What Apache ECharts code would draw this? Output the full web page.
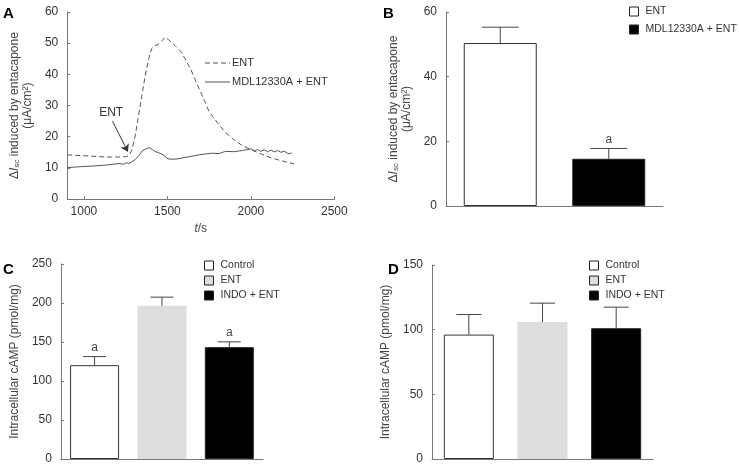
<!DOCTYPE html>
<html>
<head>
<meta charset="utf-8">
<script src="https://cdn.jsdelivr.net/npm/echarts@6/dist/echarts.min.js"></script>
<style>
  html, body { margin: 0; padding: 0; background: #fff; }
  #wrap { position: relative; width: 739px; height: 467px; }
  .panel { position: absolute; }
</style>
</head>
<body>
<div id="wrap">
  <div id="chartA" class="panel" style="left:0;top:0;width:370px;height:240px"></div>
  <div id="chartB" class="panel" style="left:370px;top:0;width:369px;height:240px"></div>
  <div id="chartC" class="panel" style="left:0;top:240px;width:370px;height:227px"></div>
  <div id="chartD" class="panel" style="left:370px;top:240px;width:369px;height:227px"></div>
</div>
<script>
// panel A : traces over time
const timeEnt = [900, 960, 1040, 1130, 1200, 1250, 1269, 1288, 1308, 1328, 1348, 1367, 1388, 1406, 1425, 1445, 1465, 1485, 1505, 1524, 1550, 1582, 1610, 1641, 1685, 1729, 1749, 1800, 1847, 1900, 1945, 2004, 2060, 2122, 2190, 2259];
const valEnt  = [14.2, 14.0, 13.8, 13.5, 13.5, 13.6, 13.9, 15.8, 20.5, 27.0, 33.5, 39.5, 45.0, 48.3, 49.2, 49.6, 50.6, 51.9, 51.2, 50.3, 49.0, 47.2, 44.6, 41.5, 36.0, 30.7, 28.1, 24.5, 21.4, 19.0, 17.3, 15.8, 14.5, 13.2, 12.2, 11.3];
const timeMdl = [900, 980, 1053, 1130, 1210, 1240, 1255, 1269, 1280, 1308, 1330, 1347, 1370, 1391, 1410, 1426, 1450, 1475, 1504, 1530, 1563, 1600, 1641, 1690, 1729, 1769, 1810, 1847, 1900, 1950, 2004, 2020, 2040, 2060, 2080, 2100, 2122, 2140, 2160, 2180, 2200, 2220, 2235, 2245];
const valMdl  = [10.1, 10.4, 10.6, 10.9, 11.4, 11.2, 11.7, 11.4, 11.8, 12.7, 14.0, 15.3, 16.1, 16.5, 15.9, 15.3, 14.8, 14.2, 12.9, 12.8, 12.9, 13.3, 13.7, 14.2, 14.5, 14.7, 14.6, 15.3, 15.2, 15.6, 16.1, 15.4, 15.9, 15.3, 15.8, 15.2, 15.7, 15.1, 15.6, 15.0, 15.4, 14.7, 14.5, 14.9];
const tickA   = [1000, 1500, 2000, 2500];
const namesA  = ['ENT', 'MDL12330A + ENT'];

// panel B : mean response
const namesB = ['ENT', 'MDL12330A + ENT'];
const valB   = [50.4, 14.6];
const upB    = [55.3, 17.8];
const sigB   = [0, 1];

// panel C and D : intracellular cAMP
const namesCD = ['Control', 'ENT', 'INDO + ENT'];
const valC   = [120.3, 196.4, 143.4];
const upC    = [131.3, 207.5, 150.2];
const sigC   = [1, 0, 1];
const valD   = [96.2, 106.0, 101.1];
const upD    = [111.7, 120.5, 117.4];
const sigD   = [0, 0, 0];

const FONT = 'Liberation Sans';
const TXT = '#333';
const AXIS = '#777';

const fills = {
  'ENT': '#ffffff', 'MDL12330A + ENT': '#000000',
  'Control': '#ffffff', 'INDO + ENT': '#000000'
};

const isscRich = {
  d: { fontFamily: FONT, fontSize: 12, color: '#444' },
  i: { fontFamily: FONT, fontSize: 12, fontStyle: 'italic', color: '#444' },
  s: { fontFamily: FONT, fontSize: 8, color: '#444', padding: [5, 0, 0, 0] },
  n: { fontFamily: FONT, fontSize: 12, color: '#444', lineHeight: 13 }
};
const isscName = '{d|Δ}{i|I}{s|sc}{n| induced by entacapone}\n{n|(μA/cm²)}';

function letter(t, left, top) {
  return { type: 'text', left: left, top: top, style: { text: t, font: 'bold 15px ' + FONT, fill: '#000' } };
}

function yAxisBase(max, interval) {
  return {
    type: 'value', min: 0, max: max, interval: interval,
    axisLine: { show: true, lineStyle: { color: AXIS } },
    axisTick: { show: true, inside: true, length: 3, lineStyle: { color: AXIS } },
    axisLabel: { color: TXT, fontFamily: FONT, fontSize: 12, margin: 9 },
    splitLine: { show: false },
    nameLocation: 'middle',
    nameTextStyle: { color: '#444', fontFamily: FONT, fontSize: 12, lineHeight: 13 }
  };
}

// error bar with cap and an optional "a" mark
function errorBarItem(params, api) {
  const idx = api.value(0);
  const base = api.coord([idx, api.value(1)]);
  const top = api.coord([idx, api.value(2)]);
  const half = api.size([1, 0])[0] * 0.17;
  const kids = [
    { type: 'line', shape: { x1: top[0], y1: base[1], x2: top[0], y2: top[1] }, style: { stroke: '#444', lineWidth: 1 } },
    { type: 'line', shape: { x1: top[0] - half, y1: top[1], x2: top[0] + half, y2: top[1] }, style: { stroke: '#444', lineWidth: 1 } }
  ];
  if (api.value(3)) {
    kids.push({ type: 'text', x: top[0], y: top[1] - 3, style: { text: 'a', fill: '#444', font: '12px ' + FONT, align: 'center', verticalAlign: 'bottom' } });
  }
  return { type: 'group', children: kids };
}

function barPanel(dom, cfg) {
  const chart = echarts.init(dom, null, { renderer: 'canvas' });
  const series = cfg.names.map((n, i) => ({
    name: n,
    type: 'bar',
    barWidth: cfg.barWidth,
    barGap: '-100%',
    data: cfg.values.map((v, j) => (j === i ? v : '-')),
    itemStyle: n === 'ENT' && cfg.grey
      ? { color: '#dcdddc' }
      : { color: fills[n], borderColor: fills[n] === '#000000' ? '#222' : '#333', borderWidth: 1 },
    emphasis: { disabled: true }
  }));
  series.push({
    type: 'custom',
    renderItem: errorBarItem,
    data: cfg.values.map((v, i) => [i, v, cfg.upper[i], cfg.sig[i]]),
    z: 5,
    silent: true
  });
  const legendData = cfg.names.map(n => ({
    name: n,
    icon: 'rect',
    itemStyle: {
      color: n === 'ENT' && cfg.grey ? '#dcdddc' : fills[n],
      borderColor: '#222', borderWidth: 1
    }
  }));
  const yAxis = yAxisBase(cfg.max, cfg.interval);
  yAxis.name = cfg.yName;
  yAxis.nameGap = cfg.nameGap;
  if (cfg.rich) yAxis.nameTextStyle.rich = cfg.rich;
  chart.setOption({
    animation: false,
    graphic: [letter(cfg.letter, cfg.letterPos[0], cfg.letterPos[1])],
    legend: {
      orient: 'vertical', left: cfg.legendPos[0], top: cfg.legendPos[1], padding: 0,
      itemWidth: 9, itemHeight: 9, itemGap: cfg.legendGap,
      textStyle: { color: TXT, fontFamily: FONT, fontSize: 10.5, padding: [0, 0, 0, 2] },
      data: legendData, selectedMode: false
    },
    grid: cfg.grid,
    xAxis: {
      type: 'category', data: cfg.names,
      axisLine: { lineStyle: { color: AXIS } },
      axisTick: { show: false }, axisLabel: { show: false }
    },
    yAxis: yAxis,
    series: series
  });
  return chart;
}

function renderA() {
  const chart = echarts.init(document.getElementById('chartA'), null, { renderer: 'canvas' });
  const yAxis = yAxisBase(60, 10);
  yAxis.name = isscName;
  yAxis.nameGap = 30;
  yAxis.nameTextStyle.rich = isscRich;

  // hand-made key: the dashed and solid line samples
  const keyY = [63, 82];
  const key = [];
  namesA.forEach((n, i) => {
    key.push({ type: 'line', shape: { x1: 205, y1: keyY[i], x2: 230, y2: keyY[i] },
      style: { stroke: '#555', lineWidth: 1, lineDash: i === 0 ? [5, 3] : null } });
    key.push({ type: 'text', x: 232, y: keyY[i], style: { text: n, fill: TXT, font: '11px ' + FONT, verticalAlign: 'middle' } });
  });

  chart.setOption({
    animation: false,
    graphic: [letter('A', 3, 6)].concat(key),
    grid: { left: 62.3, top: 12, width: 272, height: 194 },
    xAxis: {
      type: 'value', min: 900, max: 2500,
      name: '{i|t}/s', nameLocation: 'middle', nameGap: 20,
      nameTextStyle: { color: '#444', fontFamily: FONT, fontSize: 12,
        rich: { i: { fontStyle: 'italic', fontFamily: FONT, fontSize: 12, color: '#444' } } },
      axisLine: { lineStyle: { color: AXIS } },
      axisTick: { inside: true, length: 3, customValues: tickA, lineStyle: { color: AXIS } },
      axisLabel: { customValues: tickA, formatter: v => String(v), color: TXT, fontFamily: FONT, fontSize: 12, margin: 7 },
      splitLine: { show: false }
    },
    yAxis: yAxis,
    series: [
      {
        name: namesA[0], type: 'line', showSymbol: false, symbol: 'none',
        data: timeEnt.map((t, i) => [t, valEnt[i]]),
        lineStyle: { color: '#555', width: 1, type: [5, 3] },
        itemStyle: { color: '#555' },
        markLine: {
          silent: true, symbol: ['none', 'arrow'], symbolSize: 7,
          lineStyle: { color: '#333', width: 1, type: 'solid' },
          label: { show: true, position: 'start', formatter: 'ENT', color: TXT, fontFamily: FONT, fontSize: 12, distance: 3 },
          data: [[{ coord: [1171, 25] }, { coord: [1263, 15.2] }]]
        }
      },
      {
        name: namesA[1], type: 'line', showSymbol: false, symbol: 'none',
        data: timeMdl.map((t, i) => [t, valMdl[i]]),
        lineStyle: { color: '#555', width: 1 },
        itemStyle: { color: '#555' }
      }
    ]
  });
  return chart;
}

const charts = [
  renderA(),
  barPanel(document.getElementById('chartB'), {
    letter: 'B', letterPos: [13, 6],
    names: namesB, values: valB, upper: upB, sig: sigB, grey: false,
    max: 60, interval: 20, barWidth: 73,
    grid: { left: 76, top: 12, width: 217, height: 194 },
    legendPos: [259, 6], legendGap: 7,
    yName: isscName, rich: isscRich, nameGap: 28
  }),
  barPanel(document.getElementById('chartC'), {
    letter: 'C', letterPos: [3, 22],
    names: namesCD, values: valC, upper: upC, sig: sigC, grey: true,
    max: 250, interval: 50, barWidth: 49,
    grid: { left: 44, top: 24, width: 219, height: 195 },
    legendPos: [204, 20], legendGap: 4,
    yName: 'Intracellular cAMP (pmol/mg)', nameGap: 31
  }),
  barPanel(document.getElementById('chartD'), {
    letter: 'D', letterPos: [18, 22],
    names: namesCD, values: valD, upper: upD, sig: sigD, grey: true,
    max: 150, interval: 50, barWidth: 50,
    grid: { left: 62, top: 25, width: 221, height: 194 },
    legendPos: [219, 20], legendGap: 4,
    yName: 'Intracellular cAMP (pmol/mg)', nameGap: 31
  })
];

window.addEventListener('resize', () => charts.forEach(c => c.resize()));
</script>
</body>
</html>
